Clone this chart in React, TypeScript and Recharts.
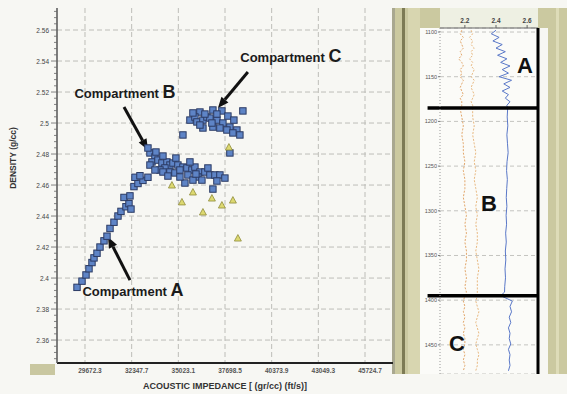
import React from 'react';
import {
  ScatterChart,
  Scatter,
  LineChart,
  Line,
  XAxis,
  YAxis,
  CartesianGrid,
  ReferenceLine,
  ReferenceDot,
} from 'recharts';

// crossplot axes
const X_TICKS = [29672.3, 32347.7, 35023.1, 37698.5, 40373.9, 43049.3, 45724.7];
const Y_TICKS = [2.36, 2.38, 2.4, 2.42, 2.44, 2.46, 2.48, 2.5, 2.52, 2.54, 2.56];

// compartment A trend (blue squares)
const ARM_IMP = [29214, 29500, 29730, 29901, 30073, 30188, 30360, 30532, 30761, 30933, 31105, 31334, 31563, 31735, 32021, 32193, 31907, 32250, 32479, 32709, 32995, 33281, 32537, 32823, 32308];
const ARM_DEN = [2.394, 2.398, 2.402, 2.406, 2.41, 2.413, 2.416, 2.42, 2.424, 2.427, 2.432, 2.436, 2.44, 2.443, 2.446, 2.448, 2.452, 2.453, 2.459, 2.461, 2.463, 2.465, 2.465, 2.466, 2.4445];

// compartment B cluster
const B_IMP = [33396, 33683, 33511, 33854, 34084, 34370, 34542, 34714, 34999, 35286, 35516, 35802, 35974, 36261, 36547, 36834, 37120, 37406, 34255, 34542, 34828, 33969, 35573, 36146, 36375, 37005, 35286, 35401, 35115, 33281, 33740, 34141, 34885, 35688, 36719, 37693, 37235, 35860, 33396, 33683, 34141, 34427, 35115, 36032];
const B_DEN = [2.4807, 2.4781, 2.4749, 2.4761, 2.4742, 2.4749, 2.4729, 2.4742, 2.4729, 2.4716, 2.471, 2.4697, 2.4716, 2.4684, 2.4684, 2.4665, 2.4665, 2.4665, 2.471, 2.4684, 2.4678, 2.4697, 2.4665, 2.4652, 2.4632, 2.4574, 2.4923, 2.4613, 2.4652, 2.4839, 2.4813, 2.4787, 2.4774, 2.4749, 2.471, 2.4645, 2.4626, 2.4632, 2.4729, 2.4697, 2.4684, 2.4658, 2.4697, 2.4671];

// compartment C cluster
const C_IMP = [36261, 37005, 37521, 38724, 35688, 35974, 36089, 36433, 36662, 36834, 37235, 37578, 37979, 38380, 38552, 36433, 37005, 37406, 37807, 38151, 36948, 36261, 37979, 35860, 36547, 37235, 37865, 38208];
const C_DEN = [2.5071, 2.5084, 2.5078, 2.5078, 2.5019, 2.5039, 2.5007, 2.5019, 2.5039, 2.5032, 2.5019, 2.5, 2.4974, 2.4955, 2.4923, 2.4968, 2.4974, 2.4968, 2.4955, 2.4936, 2.5, 2.4987, 2.4807, 2.5065, 2.5058, 2.5058, 2.5045, 2.5019];

// yellow triangles
const TRI_IMP = [34656, 35860, 35229, 36433, 36948, 37521, 38151, 37922, 38437];
const TRI_DEN = [2.46, 2.4555, 2.4491, 2.4426, 2.4516, 2.4471, 2.4503, 2.4845, 2.4258];

// log track
const DEPTH_TICKS = [1100, 1150, 1200, 1250, 1300, 1350, 1400, 1450];
const SCALE_TICKS = [2.2, 2.4, 2.6];
const ZONE_TOPS = [1185, 1395];
const LOG_DEPTH = [
  1098, 1102, 1106, 1110, 1114, 1118, 1122, 1126, 1130, 1134, 1138, 1142, 1146, 1150, 1154, 1158, 1162, 1166, 1170, 1174, 1178, 1182, 1186,
  1195, 1205, 1215, 1225, 1235, 1245, 1255, 1265, 1275, 1285, 1295, 1305, 1315, 1325, 1335, 1345, 1355, 1365, 1375, 1385, 1391,
  1395, 1401, 1407, 1413, 1419, 1425, 1431, 1437, 1443, 1449, 1455, 1461, 1467, 1473, 1479,
];
const LOG_BLUE = [
  2.4, 2.37, 2.42, 2.38, 2.44, 2.4, 2.46, 2.41, 2.47, 2.43, 2.49, 2.44, 2.48, 2.42, 2.5, 2.45, 2.49, 2.44, 2.48, 2.46, 2.49, 2.47, 2.475,
  2.472, 2.476, 2.47, 2.474, 2.478, 2.471, 2.468, 2.473, 2.469, 2.466, 2.47, 2.465, 2.468, 2.462, 2.466, 2.46, 2.463, 2.458, 2.461, 2.456, 2.455,
  2.43, 2.505, 2.49, 2.5, 2.485, 2.495, 2.48, 2.49, 2.485, 2.495, 2.48, 2.49, 2.485, 2.49, 2.48,
];
const LOG_ORANGE1 = [
  2.18, 2.17, 2.19, 2.17, 2.18, 2.19, 2.17, 2.18, 2.16, 2.18, 2.19, 2.17, 2.18, 2.17, 2.19, 2.18, 2.17, 2.18, 2.19, 2.17, 2.18, 2.18, 2.17,
  2.18, 2.19, 2.18, 2.19, 2.19, 2.2, 2.19, 2.2, 2.2, 2.19, 2.2, 2.21, 2.2, 2.21, 2.2, 2.21, 2.21, 2.2, 2.21, 2.2, 2.21,
  2.2, 2.19, 2.2, 2.19, 2.2, 2.19, 2.2, 2.19, 2.2, 2.2, 2.19, 2.2, 2.19, 2.2, 2.19,
];
const LOG_ORANGE2 = [
  2.24, 2.25, 2.23, 2.25, 2.24, 2.26, 2.24, 2.25, 2.23, 2.25, 2.24, 2.26, 2.25, 2.24, 2.26, 2.25, 2.24, 2.25, 2.26, 2.25, 2.24, 2.25, 2.25,
  2.25, 2.26, 2.25, 2.26, 2.27, 2.26, 2.27, 2.26, 2.27, 2.28, 2.27, 2.28, 2.27, 2.28, 2.28, 2.27, 2.28, 2.29, 2.28, 2.28, 2.28,
  2.28, 2.27, 2.28, 2.29, 2.28, 2.27, 2.28, 2.29, 2.28, 2.27, 2.28, 2.29, 2.28, 2.28, 2.27,
];

const FONT = "Arial, 'Liberation Sans', sans-serif";
const OLIVE = '#cbc9a0';

const zip = (xs: number[], ys: number[]) => xs.map((x, i) => ({ x, y: ys[i] }));
const armData = zip(ARM_IMP, ARM_DEN);
const bData = zip(B_IMP, B_DEN);
const cData = zip(C_IMP, C_DEN);
const triData = zip(TRI_IMP, TRI_DEN);
const logRows = LOG_DEPTH.map((depth, i) => ({
  depth,
  blue: LOG_BLUE[i],
  orange1: LOG_ORANGE1[i],
  orange2: LOG_ORANGE2[i],
}));

const X_DOMAIN = [28067.1, 47329.9];
const Y_DOMAIN = [2.3452, 2.5742];
const DEPTH_DOMAIN = [1095.5, 1482.6];

// minor ticks on the density axis, every fifth of a label step
const Y_MINOR: number[] = [];
for (let v = 2.348; v <= 2.5741; v += 0.004) Y_MINOR.push(+v.toFixed(3));
const COMB: number[] = [];
for (let d = 1098; d <= 1480; d += 7) COMB.push(d);

const Square = (p: any) => (
  <rect x={p.cx - 3.2} y={p.cy - 3.2} width={6.4} height={6.4} fill="#5e84c6" stroke="#2b3a63" strokeWidth={1} />
);

const Tri = (p: any) => (
  <polygon
    points={`${p.cx},${p.cy - 3.5} ${p.cx + 3.5},${p.cy + 3} ${p.cx - 3.5},${p.cy + 3}`}
    fill="#dcd870"
    stroke="#8f8c3a"
    strokeWidth={0.8}
  />
);

const DensityTick = ({ x, y, payload }: any) => {
  const v = payload.value;
  const major = Math.abs(v * 50 - Math.round(v * 50)) < 1e-6;
  return (
    <g>
      <line x1={x} x2={x - (major ? 6 : 3)} y1={y} y2={y} stroke="#666" strokeWidth={0.8} />
      {major && (
        <text x={x - 8} y={y + 2.5} textAnchor="end" fontSize={6.5} fill="#444" fontFamily={FONT}>
          {String(+v.toFixed(2))}
        </text>
      )}
    </g>
  );
};

const ImpTick = ({ x, y, payload }: any) => (
  <text x={x + 5} y={y + 10} textAnchor="middle" fontSize={6.5} fontWeight="bold" fill="#555" fontFamily={FONT}>
    {payload.value.toFixed(1)}
  </text>
);

const XTitle = ({ viewBox }: any) => (
  <text
    x={viewBox.x + viewBox.width / 2}
    y={viewBox.y + 26}
    textAnchor="middle"
    fontSize={9}
    fontWeight="bold"
    fill="#333"
    fontFamily={FONT}
  >
    ACOUSTIC IMPEDANCE [ (gr/cc) (ft/s)]
  </text>
);

const YTitle = ({ viewBox }: any) => {
  const x = viewBox.x + 4;
  const y = viewBox.y + 150;
  return (
    <text
      x={x}
      y={y}
      transform={`rotate(-90, ${x}, ${y})`}
      textAnchor="middle"
      fontSize={8.5}
      fontWeight="bold"
      fill="#333"
      fontFamily={FONT}
    >
      DENSITY (g/cc)
    </text>
  );
};

const CompLabel = ({ viewBox, letter }: any) => {
  const cx = viewBox.x + viewBox.width / 2;
  const cy = viewBox.y + viewBox.height / 2;
  return (
    <text x={cx} y={cy + 5} textAnchor="middle" fontSize={13} fontWeight="bold" fill="#1b1b1b" fontFamily={FONT}>
      Compartment <tspan fontSize={18}>{letter}</tspan>
    </text>
  );
};

const Arrow = (p: any) => {
  const { x1, y1, x2, y2 } = p;
  const a = Math.atan2(y2 - y1, x2 - x1);
  const len = 11;
  const w = 4.5;
  const bx = x2 - len * Math.cos(a);
  const by = y2 - len * Math.sin(a);
  const pts = `${x2},${y2} ${bx + w * Math.sin(a)},${by - w * Math.cos(a)} ${bx - w * Math.sin(a)},${by + w * Math.cos(a)}`;
  return (
    <g>
      <line x1={x1} y1={y1} x2={bx} y2={by} stroke="#111" strokeWidth={3} />
      <polygon points={pts} fill="#111" />
    </g>
  );
};

const ZoneLetter = ({ viewBox, letter }: any) => (
  <text
    x={viewBox.x + viewBox.width / 2}
    y={viewBox.y + viewBox.height / 2 + 8}
    textAnchor="middle"
    fontSize={22}
    fontWeight="bold"
    fill="#111"
    fontFamily={FONT}
  >
    {letter}
  </text>
);

const box = (left: number, top: number, width: number, height: number, background: string) => (
  <div style={{ position: 'absolute', left, top, width, height, background }} />
);

export default function App() {
  return (
    <div style={{ position: 'absolute', left: 0, top: 0, width: 567, height: 394, background: '#f7f7f3', overflow: 'hidden' }}>
      {box(392, 8, 3, 366, '#a9a890')}
      {box(395, 8, 25, 366, OLIVE)}
      {box(402, 8, 3, 366, '#7d7b55')}
      {box(408, 8, 12, 366, '#d8d6b0')}
      {box(420, 8, 20, 20, OLIVE)}
      {box(440, 8, 98, 20, '#eef0e3')}
      {box(538, 8, 10, 20, OLIVE)}
      {box(420, 28, 118, 346, '#fbfbf8')}
      {box(548, 8, 19, 366, OLIVE)}
      {box(556, 8, 3, 366, '#dedcb8')}
      {box(30, 364, 25, 11, '#c9c7a0')}

      <div style={{ position: 'absolute', left: 0, top: 0 }}>
        <ScatterChart width={400} height={394} margin={{ top: 8, right: 7, bottom: 0, left: 12 }}>
          <CartesianGrid
            horizontalValues={Y_TICKS}
            verticalValues={X_TICKS}
            stroke="#bdbdb8"
            strokeDasharray="5 3"
          />
          <XAxis
            type="number"
            dataKey="x"
            domain={X_DOMAIN}
            ticks={X_TICKS}
            interval={0}
            height={31}
            tickSize={0}
            tickMargin={0}
            tickLine={false}
            axisLine={{ stroke: '#222', strokeWidth: 2 }}
            tick={<ImpTick />}
            label={<XTitle />}
          />
          <YAxis
            type="number"
            dataKey="y"
            domain={Y_DOMAIN}
            ticks={Y_MINOR}
            interval={0}
            width={45}
            tickSize={0}
            tickMargin={0}
            tickLine={false}
            axisLine={{ stroke: '#555', strokeWidth: 1.5 }}
            tick={<DensityTick />}
            label={<YTitle />}
          />
          <Scatter data={armData} shape={<Square />} isAnimationActive={false} />
          <Scatter data={bData} shape={<Square />} isAnimationActive={false} />
          <Scatter data={cData} shape={<Square />} isAnimationActive={false} />
          <Scatter data={triData} shape={<Tri />} isAnimationActive={false} />
          <ReferenceLine segment={[{ x: 32250, y: 2.3987 }, { x: 30990, y: 2.4265 }]} shape={Arrow} />
          <ReferenceLine segment={[{ x: 31907, y: 2.5103 }, { x: 33282, y: 2.4826 }]} shape={Arrow} />
          <ReferenceLine segment={[{ x: 39010, y: 2.5329 }, { x: 37292, y: 2.5097 }]} shape={Arrow} />
          <ReferenceDot x={32422} y={2.3917} r={1} fill="none" stroke="none" label={<CompLabel letter="A" />} />
          <ReferenceDot x={31964} y={2.5194} r={1} fill="none" stroke="none" label={<CompLabel letter="B" />} />
          <ReferenceDot x={41474} y={2.5426} r={1} fill="none" stroke="none" label={<CompLabel letter="C" />} />
        </ScatterChart>
      </div>

      <div style={{ position: 'absolute', left: 420, top: 8 }}>
        <LineChart layout="vertical" width={128} height={366} data={logRows} margin={{ top: 0, right: 0, bottom: 0, left: 0 }}>
          <CartesianGrid yAxisId="d" vertical={false} stroke="#c4c4c0" strokeDasharray="4 3" />
          <XAxis
            type="number"
            orientation="top"
            domain={[2.04, 2.67]}
            ticks={SCALE_TICKS}
            interval={0}
            height={20}
            tickSize={3}
            axisLine={{ stroke: '#666' }}
            tickLine={{ stroke: '#666' }}
            tick={{ fontSize: 6.5, fill: '#444', fontFamily: FONT, fontWeight: 'bold' }}
          />
          <YAxis
            yAxisId="d"
            type="number"
            dataKey="depth"
            domain={DEPTH_DOMAIN}
            ticks={DEPTH_TICKS}
            interval={0}
            width={20}
            tickSize={2}
            tickMargin={1}
            axisLine={{ stroke: '#999', strokeDasharray: '1 2' }}
            tickLine={{ stroke: '#777' }}
            tick={{ fontSize: 5.5, fill: '#555', fontFamily: FONT }}
          />
          <YAxis
            yAxisId="comb"
            orientation="right"
            type="number"
            dataKey="depth"
            domain={DEPTH_DOMAIN}
            ticks={COMB}
            interval={0}
            width={10}
            tick={false}
            tickSize={8}
            axisLine={{ stroke: '#000', strokeWidth: 3 }}
            tickLine={{ stroke: '#000', strokeWidth: 2 }}
          />
          <Line yAxisId="d" dataKey="orange1" stroke="#e2a66a" strokeWidth={1} strokeDasharray="2 1.5" dot={false} isAnimationActive={false} />
          <Line yAxisId="d" dataKey="orange2" stroke="#e8b880" strokeWidth={1} strokeDasharray="2 1.5" dot={false} isAnimationActive={false} />
          <Line yAxisId="d" dataKey="blue" stroke="#5a78c8" strokeWidth={1} dot={false} isAnimationActive={false} />
          {ZONE_TOPS.map((d) => (
            <ReferenceLine
              key={d}
              yAxisId="d"
              segment={[{ x: 1.96, y: d }, { x: 2.67, y: d }]}
              ifOverflow="visible"
              stroke="#000"
              strokeWidth={3.5}
            />
          ))}
          <ReferenceDot yAxisId="d" x={2.586} y={1137} r={1} fill="none" stroke="none" label={<ZoneLetter letter="A" />} />
          <ReferenceDot yAxisId="d" x={2.354} y={1291} r={1} fill="none" stroke="none" label={<ZoneLetter letter="B" />} />
          <ReferenceDot yAxisId="d" x={2.149} y={1448} r={1} fill="none" stroke="none" label={<ZoneLetter letter="C" />} />
        </LineChart>
      </div>
    </div>
  );
}
